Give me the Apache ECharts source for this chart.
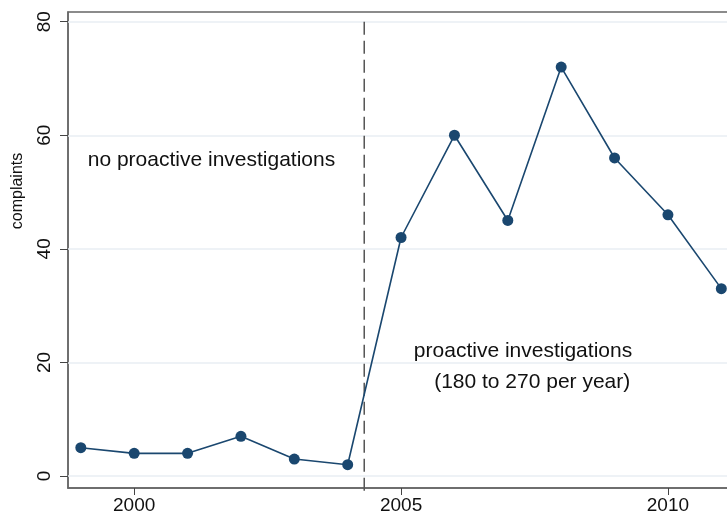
<!DOCTYPE html>
<html>
<head>
    <meta charset="UTF-8">
    <title>complaints</title>
    <script src="https://cdn.jsdelivr.net/npm/echarts@6/dist/echarts.min.js"></script>
    <style>
        html, body { margin: 0; padding: 0; background: #fff; }
        #chart { width: 727px; height: 515px; }
    </style>
</head>
<body>
<div id="chart"></div>
<script type="text/javascript">
    // data
    var years = [1999, 2000, 2001, 2002, 2003, 2004, 2005, 2006, 2007, 2008, 2009, 2010, 2011];
    var complaints = [5, 4, 4, 7, 3, 2, 42, 60, 45, 72, 56, 46, 33];
    var yTicks = [0, 20, 40, 60, 80];
    var xTicks = [2000, 2005, 2010];
    var breakYear = 2004.31;
    var breakSpan = [80, -2.75];
    var notes = [
        { text: 'no proactive investigations', x: 1999.13, y: 55.6 },
        { text: 'proactive investigations', x: 2005.24, y: 22.0 },
        { text: '(180 to 270 per year)', x: 2005.62, y: 16.5 }
    ];

    var font = 'Arial, "Liberation Sans", sans-serif';
    var navy = '#1a476f';

    var myChart = echarts.init(document.getElementById('chart'));

    var option = {
        backgroundColor: '#ffffff',
        animation: false,
        grid: {
            left: 68, top: 12, right: -21, bottom: 27,
            outerBoundsMode: 'none',
            containLabel: false,
            show: true, borderColor: '#666666', borderWidth: 1.5,
            backgroundColor: 'transparent'
        },
        xAxis: {
            type: 'value',
            min: 1998.76,
            max: 2011.5,
            axisLine: { show: true, onZero: false, lineStyle: { color: '#666666', width: 1.5 } },
            axisTick: { show: true, customValues: xTicks, length: 7, lineStyle: { color: '#444444', width: 1 } },
            axisLabel: {
                customValues: xTicks, color: '#111111', fontFamily: font, fontSize: 19, margin: 8,
                formatter: function (v) { return String(v); }
            },
            splitLine: { show: false }
        },
        yAxis: {
            type: 'value',
            min: -2.1,
            max: 81.7,
            axisLine: { show: true, onZero: false, lineStyle: { color: '#666666', width: 1.5 } },
            axisTick: { show: true, customValues: yTicks, length: 8, lineStyle: { color: '#444444', width: 1 } },
            axisLabel: {
                customValues: yTicks, rotate: 90, color: '#111111', fontFamily: font, fontSize: 19, margin: 14
            },
            splitLine: { show: false }
        },
        series: [
            {
                // light grid lines
                type: 'line',
                data: [],
                silent: true,
                z: 1,
                markLine: {
                    silent: true,
                    z: 1,
                    symbol: 'none',
                    label: { show: false },
                    animation: false,
                    lineStyle: { color: '#e8eef3', width: 1.5, type: 'solid' },
                    data: yTicks.map(function (v) { return { yAxis: v }; })
                }
            },
            {
                // dashed break line
                type: 'line',
                silent: true,
                z: 2,
                clip: false,
                symbol: 'none',
                data: breakSpan.map(function (v) { return [breakYear, v]; }),
                lineStyle: { color: '#555555', width: 1.5, type: [13, 6] }
            },
            {
                name: 'complaints',
                type: 'line',
                z: 3,
                clip: false,
                data: years.map(function (y, i) { return [y, complaints[i]]; }),
                symbol: 'circle',
                symbolSize: 11,
                itemStyle: { color: navy },
                lineStyle: { color: navy, width: 1.6 }
            }
        ]
    };
    myChart.setOption(option);

    // annotations placed in data coordinates
    var graphics = notes.map(function (n) {
        var p = myChart.convertToPixel({ gridIndex: 0 }, [n.x, n.y]);
        return {
            type: 'text', x: p[0], y: p[1], z: 10,
            style: { text: n.text, fill: '#111111', font: '21px ' + font, verticalAlign: 'middle' }
        };
    });
    graphics.push({
        type: 'text', x: 18, y: 191, rotation: Math.PI / 2, z: 10,
        style: { text: 'complaints', fill: '#111111', font: '16px ' + font, align: 'center', verticalAlign: 'middle' }
    });
    myChart.setOption({ graphic: graphics });
</script>
</body>
</html>
